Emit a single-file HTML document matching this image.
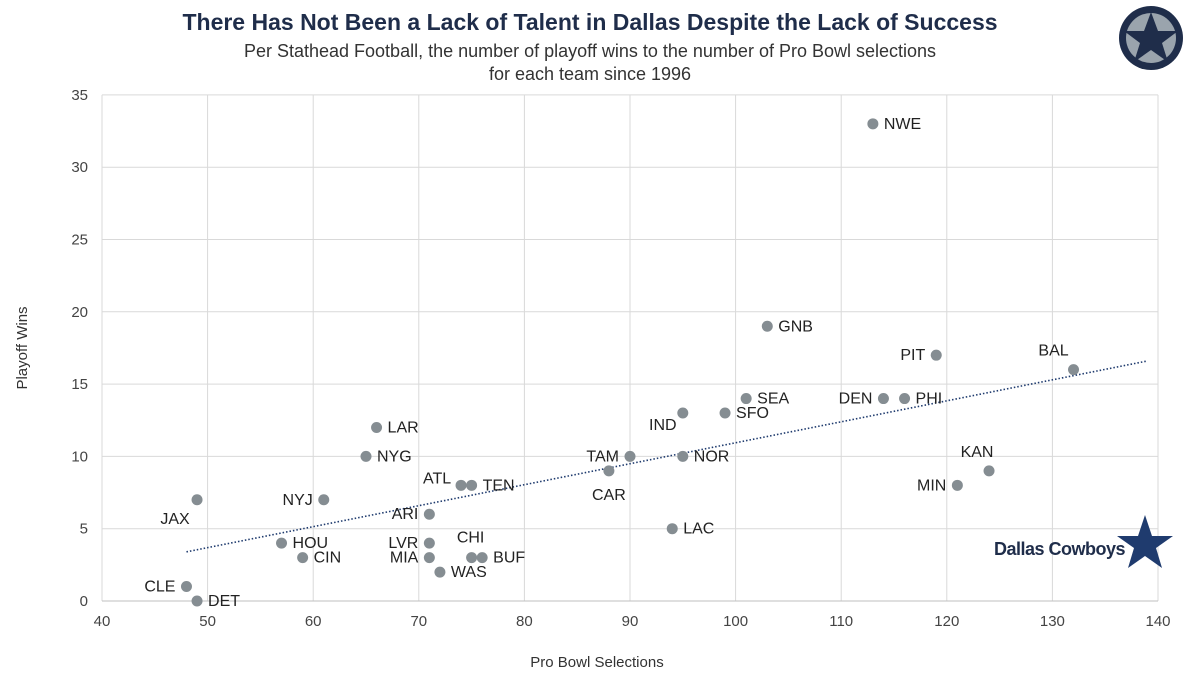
<!DOCTYPE html>
<html><head><meta charset="utf-8"><style>
body{margin:0;background:#fff;font-family:"Liberation Sans",sans-serif}
svg text{font-family:"Liberation Sans",sans-serif}
</style></head><body>
<svg id="chart" width="1200" height="675" xmlns="http://www.w3.org/2000/svg">
<text x="590" y="30" text-anchor="middle" font-size="23" font-weight="bold" fill="#1f2d4a">There Has Not Been a Lack of Talent in Dallas Despite the Lack of Success</text>
<text x="590" y="57" text-anchor="middle" font-size="18" fill="#333">Per Stathead Football, the number of playoff wins to the number of Pro Bowl selections</text>
<text x="590" y="80" text-anchor="middle" font-size="18" fill="#333">for each team since 1996</text>
<g>
<circle cx="1151" cy="38" r="32" fill="#1f2d4a"/>
<circle cx="1151" cy="38" r="25" fill="#9aa4ad"/>
<polygon points="1151,12 1158,31 1178,31 1162,43 1168,62 1151,50 1134,62 1140,43 1124,31 1144,31" fill="#1f2d4a"/>
</g>
<g id="grid"></g><g id="axes"></g>
<line id="trend" stroke="#1f3b6e" stroke-width="1.6" stroke-dasharray="1.5,2"/>
<g id="points"></g>
<text x="27" y="348" transform="rotate(-90 27 348)" text-anchor="middle" font-size="15" fill="#333">Playoff Wins</text>
<text x="597" y="667" text-anchor="middle" font-size="15" fill="#333">Pro Bowl Selections</text>
<g>
<text x="1125" y="555" text-anchor="end" font-size="18" font-weight="bold" fill="#1f2d4a" letter-spacing="-0.5">Dallas Cowboys</text>
<polygon points="1145,515 1152,536 1173,536 1156,548 1162,568 1145,556 1128,568 1134,548 1117,536 1138,536" fill="#1f3b6e"/>
</g>
</svg>
<script>
const teams=["NWE","GNB","PIT","BAL","SEA","DEN","PHI","IND","SFO","LAR","NYG","TAM","NOR","KAN","CAR","MIN","ATL","TEN","JAX","NYJ","ARI","LAC","HOU","LVR","CHI","BUF","MIA","CIN","WAS","CLE","DET"];
const proBowls=[113,103,119,132,101,114,116,95,99,66,65,90,95,124,88,121,74,75,49,61,71,94,57,71,75,76,71,59,72,48,49];
const playoffWins=[33,19,17,16,14,14,14,13,13,12,10,10,10,9,9,8,8,8,7,7,6,5,4,4,3,3,3,3,2,1,0];
const labelPos=["r","r","l","ul","r","l","r","dl","r","r","r","l","r","ul","d","l","ul","r","dl","l","l","r","r","l","u","r","l","r","r","l","r"];
const xTicks=[40,50,60,70,80,90,100,110,120,130,140];
const yTicks=[0,5,10,15,20,25,30,35];
const trendX=[48,139];
const trendY=[3.4,16.6];
const X=v=>102+(v-40)*10.56, Y=v=>601-v*14.46;
const NS="http://www.w3.org/2000/svg";
function mk(t,a,p){const e=document.createElementNS(NS,t);for(const k in a)e.setAttribute(k,a[k]);p.appendChild(e);return e;}
const grid=document.getElementById('grid'),axes=document.getElementById('axes'),pts=document.getElementById('points');
xTicks.forEach(v=>{
 const l=mk('line',{x1:X(v),x2:X(v),y1:Y(35),y2:Y(0),stroke:'#d9d9d9'},grid);
 
 
 const t=mk('text',{x:X(v),y:Y(0)+25,'text-anchor':'middle','font-size':15,fill:'#444'},axes);t.textContent=v;
 
 
});
yTicks.forEach(v=>{
 const l=mk('line',{x1:X(40),x2:X(140),y1:Y(v),y2:Y(v),stroke:v===0?'#bfbfbf':'#d9d9d9'},grid);
 
 
 const t=mk('text',{x:X(40)-14,y:Y(v)+5,'text-anchor':'end','font-size':15,fill:'#444'},axes);t.textContent=v;
 
 
});
const tr=document.getElementById('trend');
tr.setAttribute('x1',X(trendX[0]));tr.setAttribute('y1',Y(trendY[0]));tr.setAttribute('x2',X(trendX[1]));tr.setAttribute('y2',Y(trendY[1]));
teams.forEach((n,i)=>{
 const cx=X(proBowls[i]),cy=Y(playoffWins[i]);
 const c=mk('circle',{cx:cx,cy:cy,r:5.5,fill:'#858d92'},pts);
 
 
 const p=labelPos[i];let x=cx+11,y=cy+5,a='start';
 if(p==='l'){x=cx-11;a='end';}
 if(p==='ul'){x=cx-12;y=cy-14;a='middle';if(n==='BAL'){x=cx-20;}if(n==='ATL'){x=cx-24;y=cy-2;}}
 if(p==='dl'){x=cx-22;y=cy+24;a='middle';if(n==='IND'){x=cx-20;y=cy+17;}}
 if(p==='d'){x=cx;y=cy+29;a='middle';}
 if(p==='u'){x=cx-1;y=cy-15;a='middle';}
 const t=mk('text',{x:x,y:y,'text-anchor':a,'font-size':16,fill:'#222'},pts);t.textContent=n;
 
 
});
</script>
</body></html>
